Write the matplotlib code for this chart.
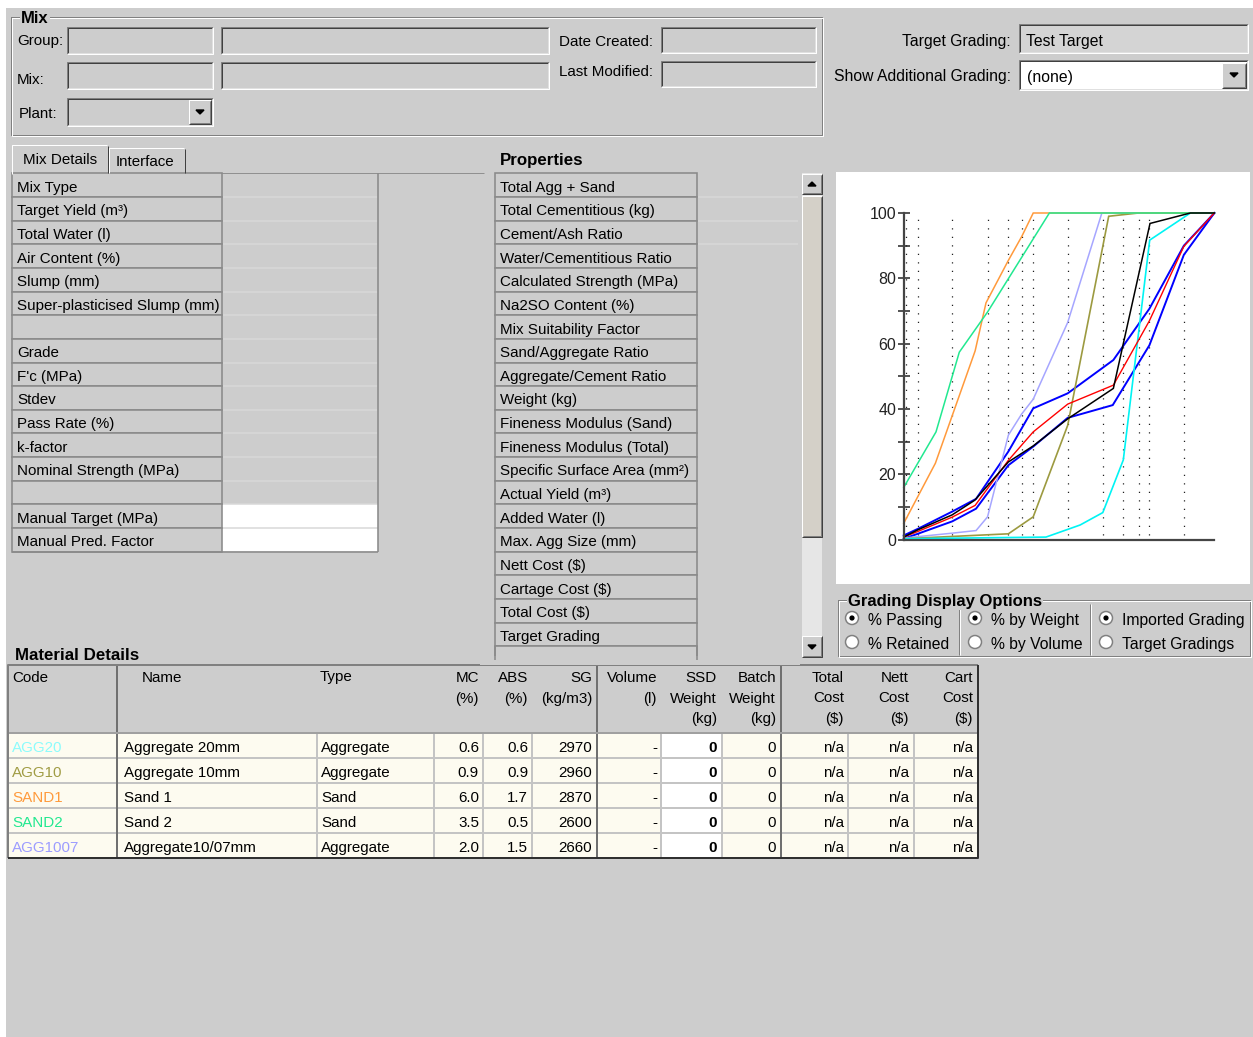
import matplotlib
matplotlib.use("Agg")
import matplotlib.pyplot as plt
from matplotlib.patches import Rectangle, Circle, Polygon

plt.rcParams['font.family'] = ['Liberation Sans', 'DejaVu Sans']

W, H = 1253, 1037
BG = '#cdcdcd'
DARK = '#808080'
DARKER = '#404040'
PX = 0.72  # one screen pixel in points at 100 dpi

# ---------------- data ----------------
mix_labels = ["Mix Type", "Target Yield (m³)", "Total Water (l)", "Air Content (%)",
              "Slump (mm)", "Super-plasticised Slump (mm)", "", "Grade", "F'c (MPa)",
              "Stdev", "Pass Rate (%)", "k-factor", "Nominal Strength (MPa)", "",
              "Manual Target (MPa)", "Manual Pred. Factor"]
prop_labels = ["Total Agg + Sand", "Total Cementitious (kg)", "Cement/Ash Ratio",
               "Water/Cementitious Ratio", "Calculated Strength (MPa)", "Na2SO Content (%)",
               "Mix Suitability Factor", "Sand/Aggregate Ratio", "Aggregate/Cement Ratio",
               "Weight (kg)", "Fineness Modulus (Sand)", "Fineness Modulus (Total)",
               "Specific Surface Area (mm²)", "Actual Yield (m³)", "Added Water (l)",
               "Max. Agg Size (mm)", "Nett Cost ($)", "Cartage Cost ($)", "Total Cost ($)",
               "Target Grading"]

mat_codes = ["AGG20", "AGG10", "SAND1", "SAND2", "AGG1007"]
mat_names = ["Aggregate 20mm", "Aggregate 10mm", "Sand 1", "Sand 2", "Aggregate10/07mm"]
mat_types = ["Aggregate", "Aggregate", "Sand", "Sand", "Aggregate"]
mat_mc = [0.6, 0.9, 6.0, 3.5, 2.0]
mat_abs = [0.6, 0.9, 1.7, 0.5, 1.5]
mat_sg = [2970, 2960, 2870, 2600, 2660]
mat_volume = ["-", "-", "-", "-", "-"]
mat_ssd = [0, 0, 0, 0, 0]
mat_batch = [0, 0, 0, 0, 0]
mat_total = ["n/a"] * 5
mat_nett = ["n/a"] * 5
mat_cart = ["n/a"] * 5
mat_colors = ["#8cfcfc", "#a09c44", "#ff9a3c", "#22e890", "#9c9cff"]

# grading chart (x = position along the sieve axis, 0..100; y = % passing)
sieve_x = [0.6, 4.5, 15.6, 27.0, 33.7, 38.0, 41.7, 52.8, 64.1, 70.7, 75.7, 79.1, 90.3]

agg20_x = [0, 45.8, 56.8, 64.1, 70.7, 79.2, 92.3, 100]
agg20_y = [0.3, 0.8, 4.5, 8.3, 24.4, 91.7, 100, 100]
agg10_x = [0, 33.7, 41.7, 52.8, 66.0, 75.6, 100]
agg10_y = [0.3, 1.8, 7.0, 35.0, 99.0, 100, 100]
sand1_x = [0, 10.2, 23.0, 26.5, 33.7, 38.0, 41.7, 100]
sand1_y = [5.0, 23.4, 57.8, 72.5, 85.5, 92.8, 100, 100]
sand2_x = [0, 10.4, 17.9, 27.0, 46.9, 100]
sand2_y = [16.0, 33.0, 57.4, 69.7, 100, 100]
agg1007_x = [0, 15.6, 23.3, 27.0, 33.7, 38.0, 41.7, 52.8, 63.8, 75.6]
agg1007_y = [0.5, 2.0, 2.8, 7.0, 32.0, 38.5, 43.0, 66.5, 100, 100]

combined_x = [0, 4.5, 15.6, 22.9, 33.7, 41.7, 52.8, 67.5, 79.3, 92.3, 100]
combined_y = [0.8, 3.0, 7.6, 12.1, 23.8, 28.7, 37.0, 46.3, 96.8, 100, 100]
target_x = [0, 4.5, 15.6, 23.0, 33.7, 41.7, 52.8, 67.5, 79.1, 90.2, 100]
target_y = [0.8, 2.5, 6.9, 10.5, 24.3, 33.0, 41.5, 47.3, 67.0, 89.8, 100]
upper_x = [0, 4.5, 15.6, 23.3, 33.7, 41.7, 52.8, 67.5, 79.1, 90.2, 100]
upper_y = [1.3, 3.3, 8.6, 12.5, 27.0, 40.2, 44.8, 55.0, 70.7, 90.0, 100]
lower_x = [0, 4.5, 15.6, 23.3, 33.7, 41.7, 52.8, 67.3, 79.1, 90.2, 100]
lower_y = [0.3, 1.8, 5.6, 9.5, 22.8, 28.5, 37.3, 41.2, 59.5, 87.2, 100]

# ---------------- canvas ----------------
fig = plt.figure(figsize=(W / 100, H / 100), dpi=100, facecolor=BG)
ui = fig.add_axes([0, 0, 1, 1])
ui.set_xlim(0, W)
ui.set_ylim(H, 0)
ui.axis('off')


def box(x0, y0, x1, y1, fc, ec='none', lw=0, z=1):
    ui.add_patch(Rectangle((x0, y0), x1 - x0, y1 - y0, facecolor=fc,
                           edgecolor=ec, linewidth=lw * PX, zorder=z))


def line(xs, ys, c, lw=1, z=3):
    ui.plot(xs, ys, color=c, lw=lw * PX, solid_capstyle='butt', zorder=z)


def label(x, y, s, ha='left', size=10.9, weight='normal', color='black', z=6):
    ui.text(x, y, s, ha=ha, va='center_baseline', fontsize=size,
            fontweight=weight, color=color, zorder=z)


def sunken(x0, y0, x1, y1, fc=BG):
    box(x0, y0, x1, y1, fc)
    line([x0, x0, x1], [y1, y0, y0], DARK)
    line([x0 + 1, x0 + 1, x1 - 1], [y1 - 1, y0 + 1, y0 + 1], DARKER)
    line([x0, x1, x1], [y1, y1, y0], 'white')
    line([x0 + 1, x1 - 1, x1 - 1], [y1 - 1, y1 - 1, y0 + 1], '#e0e0e0')


def raised(x0, y0, x1, y1, fc=BG):
    box(x0, y0, x1, y1, fc, z=2)
    line([x0, x0, x1], [y1, y0, y0], 'white', z=4)
    line([x0, x1, x1], [y1, y1, y0], DARKER, z=4)
    line([x0 + 1, x1 - 1, x1 - 1], [y1 - 1, y1 - 1, y0 + 1], DARK, z=4)


def arrow(cx, cy, up=False):
    if up:
        pts = [(cx - 4, cy + 2), (cx + 4, cy + 2), (cx, cy - 2)]
    else:
        pts = [(cx - 4, cy - 2), (cx + 4, cy - 2), (cx, cy + 2)]
    ui.add_patch(Polygon(pts, closed=True, color='black', zorder=6))


def group(x0, y0, x1, y1, title, tx):
    line([x0, x1, x1, x0, x0], [y0, y0, y1, y1, y0], DARK)
    line([x0 + 1, x1 + 1, x1 + 1, x0 + 1, x0 + 1], [y0 + 1, y0 + 1, y1 + 1, y1 + 1, y0 + 1], 'white')
    ui.text(tx, y0, title, ha='left', va='center_baseline', fontsize=12, fontweight='bold',
            zorder=6, bbox=dict(fc=BG, ec='none', pad=1))


def radio(cx, cy, on):
    ui.add_patch(Circle((cx, cy), 6.5, facecolor='white', edgecolor=DARK, linewidth=1.5 * PX, zorder=5))
    if on:
        ui.add_patch(Circle((cx, cy), 2.6, facecolor='black', edgecolor='none', zorder=6))


# white margins of the screenshot
box(0, 0, W, 8, 'white', z=0)
box(0, 0, 6, H, 'white', z=0)

# ---------------- Mix group ----------------
group(11, 17, 822, 135, "Mix", 21)
label(17, 40, "Group:")
label(17, 78, "Mix:")
label(19, 113, "Plant:")
label(559, 41, "Date Created:")
label(559, 71, "Last Modified:")
sunken(67, 27, 213, 54)
sunken(221, 27, 549, 54)
sunken(661, 27, 816, 53)
sunken(67, 62, 213, 89)
sunken(221, 62, 549, 89)
sunken(661, 61, 816, 87)
sunken(67, 98, 213, 126)
raised(189, 100, 211, 124)
arrow(200, 112)

# ---------------- target grading ----------------
label(1011, 40, "Target Grading:", ha='right', size=11.3)
sunken(1019, 24, 1248, 53, fc='#d4d4d4')
label(1026, 40, "Test Target", size=11.3)
label(1011, 75, "Show Additional Grading:", ha='right', size=11.3)
sunken(1019, 60, 1248, 90, fc='white')
label(1027, 76, "(none)", size=11.3)
raised(1222, 63, 1246, 88)
arrow(1234, 75)

# ---------------- tabs ----------------
line([108, 484], [173, 173], '#909090')
box(12, 145, 108, 174, BG, z=2)
line([12, 12, 107], [174, 145, 145], 'white', z=4)
line([108, 108], [146, 173], DARKER, z=4)
label(23, 158, "Mix Details")
box(109, 148, 185, 173, BG, z=2)
line([109, 109, 184], [173, 148, 148], 'white', z=4)
line([185, 185], [149, 173], DARKER, z=4)
label(116, 161, "Interface")

# ---------------- mix details grid ----------------
row_h = 23.65
grid_top = 173.3
for i, lab in enumerate(mix_labels):
    y0 = grid_top + i * row_h
    y1 = y0 + row_h
    fc = 'white' if i >= len(mix_labels) - 2 else BG
    box(222, y0, 378, y1, fc)
    line([222, 378], [y1, y1], '#d8d8d8', lw=1.5)
    box(12, y0, 222, y1, BG, ec='#8a8a8a', lw=1.6, z=3)
    label(17, y0 + row_h / 2 + 1, lab)
grid_bot = grid_top + len(mix_labels) * row_h
line([378, 378], [grid_top, grid_bot], '#8a8a8a', lw=1.6)
line([12, 378], [grid_bot, grid_bot], '#8a8a8a', lw=1.6)

# ---------------- properties grid ----------------
label(500, 159, "Properties", size=12.2, weight='bold')
for i, lab in enumerate(prop_labels + [""]):
    y0 = grid_top + i * row_h
    y1 = min(y0 + row_h, 660)
    box(697, y0, 798, y1, BG)
    if y1 - y0 >= row_h:
        line([697, 798], [y1, y1], '#d8d8d8', lw=1.5)
    box(495, y0, 697, y1, BG, ec='#8a8a8a', lw=1.6, z=3)
    label(500, y0 + row_h / 2 + 1, lab)
box(480, 656, 800, 665, BG, z=5)
line([495, 495], [646, 660], '#8a8a8a', lw=1.6, z=6)
line([697, 697], [646, 660], '#8a8a8a', lw=1.6, z=6)

# scrollbar
box(802, 173, 822, 657, '#e6e6e6')
raised(802, 174, 822, 194)
arrow(812, 184, up=True)
raised(802, 196, 822, 537, fc='#d4d0c8')
raised(802, 636, 822, 657)
arrow(812, 647)

# ---------------- grading chart panel ----------------
box(836, 172, 1250, 584, 'white')

cx0, cx1, cy0, cy1 = 903.7, 1214.3, 213.0, 539.7
gax = fig.add_axes([cx0 / W, 1 - cy1 / H, (cx1 - cx0) / W, (cy1 - cy0) / H])
gax.set_xlim(0, 100)
gax.set_ylim(0, 100)
gax.patch.set_visible(False)
gax.vlines(sieve_x, 1.5, 100, colors='#202020', linestyles=(0, (1.0, 5.8)), lw=0.9)

series = [
    (lower_x, lower_y, '#0000ff', 1.4),
    (upper_x, upper_y, '#0000ff', 1.4),
    (agg1007_x, agg1007_y, '#a6a6ff', 1.1),
    (agg10_x, agg10_y, '#9c9a40', 1.2),
    (agg20_x, agg20_y, '#00f4f4', 1.2),
    (sand1_x, sand1_y, '#ff9a3c', 1.1),
    (sand2_x, sand2_y, '#22e890', 1.1),
    (target_x, target_y, '#ff0000', 1.0),
    (combined_x, combined_y, '#000000', 1.1),
]
for xs, ys, c, lw in series:
    gax.plot(xs, ys, color=c, lw=lw, clip_on=False, solid_joinstyle='miter')

for side in ('top', 'right'):
    gax.spines[side].set_visible(False)
for side in ('left', 'bottom'):
    gax.spines[side].set_color('#454545')
    gax.spines[side].set_linewidth(1.6)
gax.set_xticks([])
gax.set_yticks(range(0, 101, 10))
gax.set_yticklabels([str(v) if v % 20 == 0 else "" for v in range(0, 101, 10)])
gax.tick_params(axis='y', direction='inout', length=8, width=1.3, color='#454545',
                labelcolor='#222222', labelsize=11.5, pad=1.5)

# ---------------- grading display options ----------------
group(838, 600, 1250, 656, "Grading Display Options", 848)
for sx in (959, 1090):
    line([sx, sx], [604, 655], DARK)
    line([sx + 1, sx + 1], [604, 655], 'white')
radio(852, 618, True)
radio(852, 642, False)
radio(975, 618, True)
radio(975, 642, False)
radio(1106, 618, True)
radio(1106, 642, False)
label(868, 619, "% Passing", size=11.3)
label(868, 643, "% Retained", size=11.3)
label(991, 619, "% by Weight", size=11.3)
label(991, 643, "% by Volume", size=11.3)
label(1122, 619, "Imported Grading", size=11.3)
label(1122, 643, "Target Gradings", size=11.3)

# ---------------- material details ----------------
label(15, 654, "Material Details", size=12.2, weight='bold')
tx0, tx1, ty0, thead, ty1 = 8, 978, 665, 733, 858
col_edges = [8, 117, 317, 434, 483, 532, 597, 661, 722, 781, 848, 914, 978]
major_cols = [117, 597, 781]
box(tx0, ty0, tx1, thead, BG)
mrow_h = (ty1 - thead) / len(mat_codes)
for i in range(len(mat_codes)):
    y0 = thead + i * mrow_h
    y1 = y0 + mrow_h
    box(tx0, y0, tx1, y1, '#fdfbf0')
    box(661, y0, 722, y1, 'white')
    line([tx0, tx1], [y1, y1], '#c4c4c4', lw=2)
for x in col_edges[1:-1]:
    if x in major_cols:
        line([x, x], [ty0, ty1], '#707070', lw=2)
    else:
        line([x, x], [thead, ty1], '#c4c4c4', lw=2)
line([tx0, tx1], [thead, thead], '#a0a0a0', lw=2)
line([tx0, tx0, tx1], [ty1, ty0, ty0], '#808080', lw=2)
line([tx0, tx1, tx1], [ty1, ty1, ty0], '#303030', lw=2)

# header
hdr_y = [676, 697, 718]
label(12, hdr_y[0], "Code")
label(142, hdr_y[0], "Name")
label(320, hdr_y[0], "Type")
headers = [
    (479, ["MC", "(%)"]),
    (528, ["ABS", "(%)"]),
    (592, ["SG", "(kg/m3)"]),
    (657, ["Volume", "(l)"]),
    (717, ["SSD", "Weight", "(kg)"]),
    (776, ["Batch", "Weight", "(kg)"]),
    (844, ["Total", "Cost", "($)"]),
    (909, ["Nett", "Cost", "($)"]),
    (973, ["Cart", "Cost", "($)"]),
]
for xr, lines_ in headers:
    for k, t in enumerate(lines_):
        label(xr, hdr_y[k], t, ha='right')

for i in range(len(mat_codes)):
    yc = thead + (i + 0.5) * mrow_h + 1
    label(12, yc, mat_codes[i], color=mat_colors[i])
    label(124, yc, mat_names[i])
    label(321, yc, mat_types[i])
    label(479, yc, f"{mat_mc[i]:.1f}", ha='right')
    label(528, yc, f"{mat_abs[i]:.1f}", ha='right')
    label(592, yc, f"{mat_sg[i]}", ha='right')
    label(657, yc, mat_volume[i], ha='right')
    label(717, yc, f"{mat_ssd[i]}", ha='right', weight='bold')
    label(776, yc, f"{mat_batch[i]}", ha='right')
    label(844, yc, mat_total[i], ha='right')
    label(909, yc, mat_nett[i], ha='right')
    label(973, yc, mat_cart[i], ha='right')

fig.savefig("out.png", dpi=100, facecolor=BG)
